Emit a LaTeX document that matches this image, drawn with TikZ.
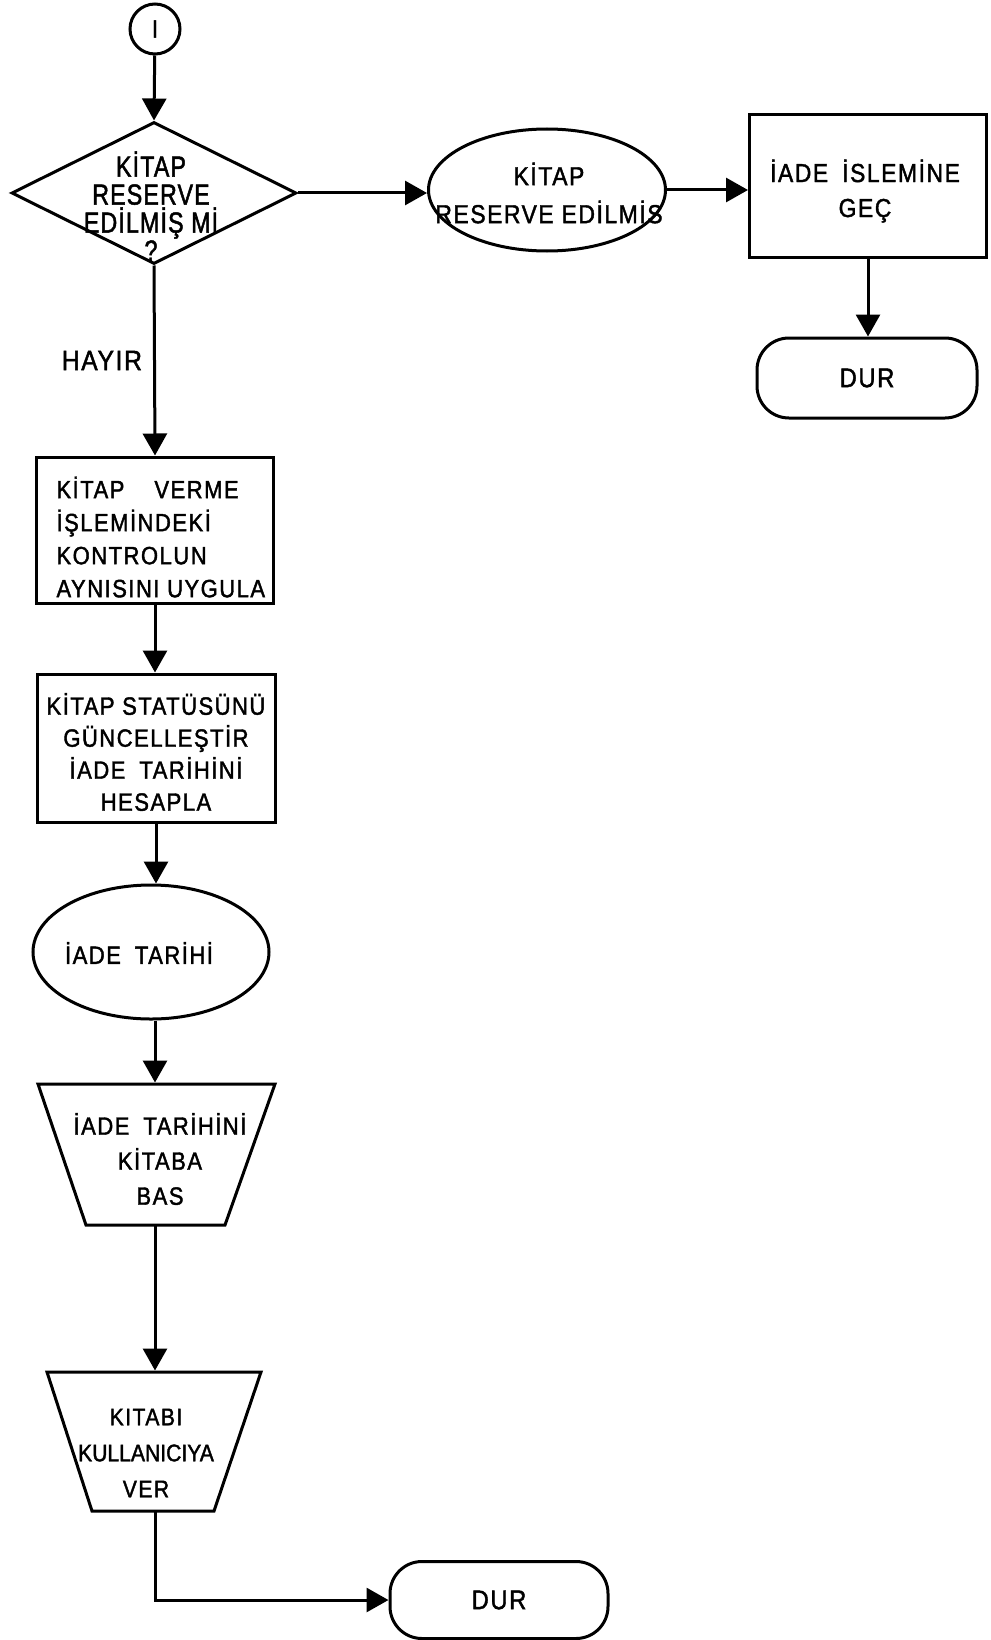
\documentclass[tikz,border=0pt]{standalone}
\usepackage{fontspec}
\usetikzlibrary{arrows.meta,shapes.geometric}
% lettering: a slightly condensed, spaced, heavier sans
\newfontfamily\hand[FakeStretch=0.88,LetterSpace=6,FakeBold=1.6]{Liberation Sans}
\newfontfamily\handn[FakeStretch=0.80,LetterSpace=4,FakeBold=1.6]{Liberation Sans}
\newcommand\wgap{\hspace{14pt}}

\begin{document}
\begin{tikzpicture}[x=1pt,y=-1pt,line width=3pt,line join=miter,
  flow/.style={-{Triangle[length=22pt,width=24pt]}},
  box/.style={draw,rectangle,inner sep=0pt},
  oval/.style={draw,ellipse,inner sep=0pt},
  term/.style={draw,rectangle,rounded corners=32pt,inner sep=0pt,
    font=\hand\fontsize{27}{32}\selectfont},
  txt/.style={inner sep=0pt,align=center,font=\hand\fontsize{25}{33}\selectfont},
  dtxt/.style={inner sep=0pt,align=center,font=\handn\fontsize{29}{28}\selectfont},
]
\useasboundingbox (0,0) rectangle (990,1640);

% connector circle and decision
\node[draw,circle,minimum size=50pt,inner sep=0pt,
  font=\hand\fontsize{25}{30}\selectfont] (start) at (155,29) {I};
\node[draw,diamond,minimum width=285pt,minimum height=142pt,inner sep=0pt]
  (dec) at (154,193) {};
\node[dtxt] (dect) at (151,206) {KİTAP\\RESERVE\\EDİLMİŞ Mİ\\?};

% right branch
\node[oval,minimum width=237pt,minimum height=122pt] (e1) at (547,190) {};
\node[txt,font=\hand\fontsize{26}{38}\selectfont] (e1t) at (549,193)
  {KİTAP\\RESERVE EDİLMİS};
\node[box,minimum width=237pt,minimum height=142pt] (isl) at (868,186) {};
\node[txt,font=\hand\fontsize{26}{35}\selectfont] (islt) at (865,191)
  {İADE\wgap İSLEMİNE\\GEÇ};
\node[term,minimum width=220pt,minimum height=80pt] (dur1) at (867,378) {DUR};

% main column
\node[box,minimum width=237pt,minimum height=146pt] (b1) at (155,530) {};
\node[txt,align=left,anchor=west] (b1t) at (55,537)
  {KİTAP\hspace{30pt}VERME\\İŞLEMİNDEKİ\\KONTROLUN\\AYNISINI UYGULA};
\node[box,minimum width=238pt,minimum height=148pt] (b2) at (156,748) {};
\node[txt,font=\hand\fontsize{25}{32}\selectfont] (b2t) at (156,752)
  {KİTAP STATÜSÜNÜ\\GÜNCELLEŞTİR\\İADE\wgap TARİHİNİ\\HESAPLA};
\node[oval,minimum width=236pt,minimum height=134pt] (e2) at (151,952) {};
\node[txt] (e2t) at (139,953) {İADE\wgap TARİHİ};

% manual-operation trapezoids (wide side on top)
\coordinate (t1n) at (155,1084);
\coordinate (t1s) at (155,1225);
\draw (38,1084) -- (275,1084) -- (225,1225) -- (86,1225) -- cycle;
\node[txt,font=\hand\fontsize{25}{35}\selectfont] (t1t) at (160,1159)
  {İADE\wgap TARİHİNİ\\KİTABA\\BAS};
\coordinate (t2n) at (155,1372);
\coordinate (t2s) at (155,1511);
\draw (47,1372) -- (261,1372) -- (214,1511) -- (92,1511) -- cycle;
\node[txt,font=\hand\fontsize{24}{36}\selectfont,
  xscale=1] (t2t) at (146,1453)
  {KITABI\\\addfontfeature{LetterSpace=0}KULLANICIYA\\VER};
\node[term,minimum width=218pt,minimum height=77pt] (dur2) at (499,1600) {DUR};

% connectors
\draw[flow] (start) -- (dec.north);
\draw[flow] (dec.east) -- (dec.east -| e1.west);
\draw[flow] (e1.east) -- (e1.east -| isl.west);
\draw[flow] (isl.south) -- (isl.south |- dur1.north);
\draw[flow] (dec.south) -- node[pos=0.5,left=11pt,inner sep=0pt,
  font=\hand\fontsize{28}{32}\selectfont] (hayir) {HAYIR} (b1.north);
\draw[flow] (b1.south) -- (b1.south |- b2.north);
\draw[flow] (b2.south) -- (b2.south |- e2.north);
\draw[flow,shorten >=1.5pt] (e2.south -| t1n) -- (t1n);
\draw[flow,shorten >=1.5pt] (t1s) -- (t2n);
\draw[flow] (t2s) |- (dur2.west);
\end{tikzpicture}
\end{document}
